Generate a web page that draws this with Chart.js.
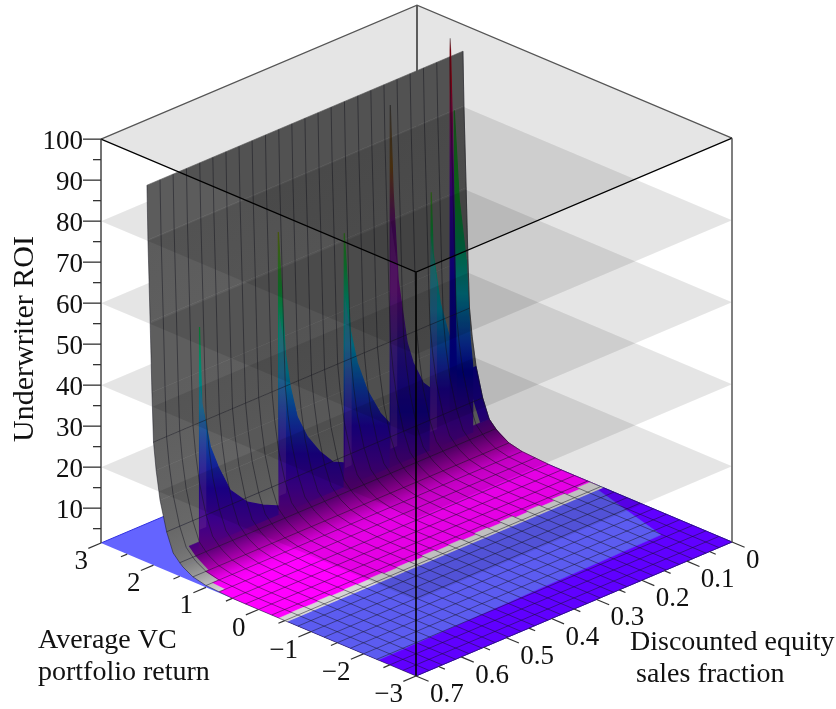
<!DOCTYPE html>
<html>
<head>
<meta charset="utf-8">
<style>body{margin:0;background:#fff}canvas{display:block}</style>
<script src="https://cdn.jsdelivr.net/npm/chart.js@4/dist/chart.umd.min.js"></script>
</head>
<body>
<canvas id="surface" width="836" height="709"></canvas>
<script>
// surface profile, ROI only depends on the return
const returnGrid = [-3,-2.75,-2.5,-2.25,-2,-1.75,-1.5,-1.25,-1,-0.75,-0.5,-0.25,0,0.25,0.5,0.75,1,1.25,1.44,1.5,1.626,1.75,1.875,1.95,2,2.03,2.064,2.106,2.125];
const roiProfile = [1.5,1.5,1.5,1.5,1.5,1.5,1.5,1.5,1.5,1.5,1.5,1.5,1.5,1.5,1.55,1.75,1.95,2.7,4.1,4.8,6.5,11,18,24.9,31.5,43.5,60.5,80.3,93.5];
const fractionGrid = [0,0.029,0.058,0.0875,0.117,0.146,0.175,0.204,0.233,0.2625,0.292,0.321,0.35,0.379,0.408,0.4375,0.467,0.496,0.525,0.554,0.583,0.6125,0.642,0.671,0.7];
const meshReturns = [-3,-2.75,-2.5,-2.25,-2,-1.75,-1.5,-1.25,-1,-0.75,-0.5,-0.25,0,0.25,0.5,0.75,1,1.25,1.5,1.75,2];

// rows from r=0.5 upward: wall grey, tint of the coloured part and where the tint starts
const wallReturns = [0.5,0.75,1,1.25,1.44,1.5,1.626,1.75,1.875,1.95,2,2.03,2.064,2.106,2.125];
const wallGrey = ['#c0c0c0','#d4d4d4','#bcbcbc','#9a9a9a','#808080','#787878','#707070','#686868','#646464','#626262','#606060','#5e5e5e','#5e5e5e','#5c5c5c','#5c5c5c'];
const tintReturns = [0.5,0.75,1,1.25,1.5,1.626];
const tintColors = ['#ff00ff','#ff00ff','#f000f0','#b000b0','#60007a','#48007e'];
const tintStartF = [0.7,0.686,0.672,0.665,0.665];
const capReturns = [1.626,1.75,1.875];
const capColors = ['#30008a','#1c0090','#0a0090'];

// floor zones, the grey strip has a stepped upper edge
const magentaEdge = -0.42;
const stripEdge = -0.55;
const stripSteps = [-0.3,-0.36,-0.32,-0.38,-0.34,-0.38,-0.33,-0.37,-0.35,-0.39,-0.36,-0.38,-0.35,-0.39,-0.37,-0.39,-0.36,-0.38,-0.37,-0.39,-0.37,-0.39,-0.38,-0.39];
const lightZoneR = [-0.55,-0.55,-2.16,-2.28];
const lightZoneF = [0.7,0.012,0.06,0.7];

// spikes, read in the plane r = 1.94
const spikeR = 1.94;
const spikeF = [
  [0.605,0.605,0.6,0.581,0.5635,0.537,0.499,0.464,0.428,0.428],
  [0.4285,0.4305,0.415,0.404,0.3885,0.366,0.3376,0.309,0.282,0.282],
  [0.283,0.2844,0.271,0.2556,0.2335,0.2047,0.18,0.18],
  [0.182,0.1825,0.176,0.165,0.145,0.1316,0.1094,0.094,0.094],
  [0.094,0.0917,0.0875,0.0717,0.0497,0.0497],
  [0.0364,0.0407,0.0297,0.0142,0.0053,0,0],
  [0.0497,0.0497,0.0452,0.0407,0.0364,0.0364]
];
const spikeRoi = [
  [1.5,55.5,36.7,25.1,19.4,12.5,7.8,5.45,3.55,1.5],
  [1.5,70.5,40.3,31.5,23.4,17.5,12.5,8.7,7.2,1.5],
  [1.5,63.4,39.1,30.4,22.7,15.8,11.7,1.5],
  [1.5,89.9,68.1,46.4,30.1,24.6,18.7,16.7,1.5],
  [1.5,64.4,49.3,36.4,26.4,1.5],
  [1.5,82,59.6,44.2,24.3,17.9,1.5],
  [1.5,100,79.8,55.2,18.4,1.5]
];
const commonStops = [[1.5,'#5a0078'],[8,'#3c0088'],[16,'#1c0090'],[26,'#0c3a9a'],[36,'#007f99'],[46,'#008a70'],[56,'#0f8030'],[70,'#506010']];
const spikeStops = [
  commonStops, commonStops, commonStops,
  [[1.5,'#50007a'],[15,'#10008a'],[30,'#25107e'],[45,'#5a0a70'],[60,'#4a0a60'],[75,'#5a3a10'],[90,'#333333']],
  commonStops,
  [[1.5,'#4a0080'],[18,'#00008c'],[25,'#0a2f9a'],[37,'#007f90'],[48,'#007a50'],[60,'#0f7a20'],[82,'#1a6020']],
  [[1.5,'#4a0080'],[20,'#00008c'],[40,'#0a008a'],[60,'#30008a'],[75,'#60005f'],[90,'#8a0010'],[97,'#800010'],[100,'#999999']]
];
// muted band on the left side of the spikes
const bandSpikes = [0,1,2,3,4];
const bandWidthF = 0.015;
const bandRoi = [30,39,36,50,42];
const bandFloor = 6;

// level planes and where each one goes through the wall
const planeLevels = [20,40,60,80];
const planeCutR = [1.9,2.02,2.07,2.105];

// axes
const roiTicks = [10,20,30,40,50,60,70,80,90,100];
const roiMinor = [5,15,25,35,45,55,65,75,85,95];
const returnTicks = [3,2,1,0,-1,-2,-3];
const returnMinor = [2.5,1.5,0.5,-0.5,-1.5,-2.5];
const fractionTicks = [0,0.1,0.2,0.3,0.4,0.5,0.6,0.7];
const fractionMinor = [0.05,0.15,0.25,0.35,0.45,0.55,0.65];

const rMin = -3, rMax = 3, fMax = 0.7, zMin = 1.5, zMax = 100;

function project(r, f, z) {
  const u = (r - rMin) / (rMax - rMin), v = (fMax - f) / fMax;
  return { x: 416 - 315 * u + 316 * v, y: 676 - 133 * u - 134 * v - 4.1 * (z - zMin) };
}
function roiAt(r) {
  return roiProfile[returnGrid.indexOf(r)];
}

const canvas = document.getElementById('surface');
const ctx = canvas.getContext('2d');
const sets = [];

function shape(points, color, border, bw) {
  sets.push({ data: points, showLine: true, fill: 'shape', backgroundColor: color,
    borderColor: border || color, borderWidth: bw === undefined ? 0.6 : bw, pointRadius: 0, tension: 0 });
}
function line(points, color, width) {
  sets.push({ data: points, showLine: true, fill: false, borderColor: color, borderWidth: width, pointRadius: 0, tension: 0 });
}
function rowPoly(ra, rb, f0, f1) {
  return [project(ra, f0, roiAt(ra)), project(ra, f1, roiAt(ra)), project(rb, f1, roiAt(rb)), project(rb, f0, roiAt(rb))];
}
// gradient across a strip, from its edge a to its edge b
function stripFill(poly, ca, cb) {
  const a = poly[0], d = { x: poly[1].x - a.x, y: poly[1].y - a.y }, b = poly[3];
  const t = ((b.x - a.x) * d.x + (b.y - a.y) * d.y) / (d.x * d.x + d.y * d.y);
  const g = ctx.createLinearGradient(a.x, a.y, b.x - t * d.x, b.y - t * d.y);
  g.addColorStop(0, ca);
  g.addColorStop(1, cb);
  return g;
}
function planePoly(z, r0, r1) {
  return [project(r0, fMax, z), project(r0, 0, z), project(r1, 0, z), project(r1, fMax, z)];
}

// floor plate
shape(planePoly(zMin, rMin, rMax), '#6464ff', '#3030e0', 1);

// part of the planes behind the wall
planeLevels.forEach((z, i) => shape(planePoly(z, planeCutR[i], rMax), 'rgba(0,0,0,0.1)', 'rgba(0,0,0,0)', 0));

// back axis edge
line([project(rMax, 0, zMin), project(rMax, 0, zMax)], '#000', 1.2);

// wall, back rows first
for (let i = wallReturns.length - 2; i >= 0; i--) {
  const poly = rowPoly(wallReturns[i + 1], wallReturns[i], fMax, 0);
  shape(poly, stripFill(poly, wallGrey[i + 1], wallGrey[i]));
}
// tinted rows
for (let i = tintReturns.length - 2; i >= 0; i--) {
  const poly = rowPoly(tintReturns[i + 1], tintReturns[i], tintStartF[i], 0);
  shape(poly, stripFill(poly, tintColors[i + 1], tintColors[i]));
}
// right end of the wall keeps its colour further up
for (let i = capReturns.length - 2; i >= 0; i--) {
  const poly = rowPoly(capReturns[i + 1], capReturns[i], 0.02, 0);
  shape(poly, stripFill(poly, capColors[i + 1], capColors[i]));
}

// spikes
spikeF.forEach((fs, i) => {
  const pts = fs.map((f, k) => project(spikeR, f, spikeRoi[i][k]));
  const stops = spikeStops[i];
  const yAt = z => project(spikeR, fs[0], z).y;
  const top = stops[stops.length - 1][0];
  const g = ctx.createLinearGradient(0, yAt(zMin), 0, yAt(top));
  stops.forEach(s => g.addColorStop((s[0] - zMin) / (top - zMin), s[1]));
  shape(pts, g, g, 1.2);
});
bandSpikes.forEach((s, i) => {
  const f0 = spikeF[s][0];
  const band = [project(spikeR, f0, bandFloor), project(spikeR, f0, bandRoi[i] + 12),
    project(spikeR, f0 - bandWidthF, bandRoi[i]), project(spikeR, f0 - bandWidthF, bandFloor)];
  shape(band, 'rgba(130,70,150,0.26)', 'rgba(0,0,0,0)', 0);
});

// floor zones in front of the wall
shape(planePoly(zMin, magentaEdge, 0.5), '#ff00ff');
shape(planePoly(zMin, rMin, stripEdge), '#6000ff');
shape(lightZoneR.map((r, i) => project(r, lightZoneF[i], zMin)), '#5c5cf0');
const stripEdgePts = [];
stripSteps.forEach((r, i) => {
  stripEdgePts.push(project(r, fractionGrid[i], zMin), project(r, fractionGrid[i + 1], zMin));
});
shape([project(stripEdge, 0, zMin), ...stripEdgePts, project(stripEdge, fMax, zMin)], '#d6d6d6');

// mesh
const meshColor = 'rgba(20,20,30,0.55)';
fractionGrid.forEach(f => line(returnGrid.map((r, k) => project(r, f, roiProfile[k])), meshColor, 0.9));
meshReturns.forEach(r => line([project(r, fMax, roiAt(r)), project(r, 0, roiAt(r))], meshColor, 0.9));

// planes over the wall and top face
planeLevels.forEach((z, i) => shape(planePoly(z, rMin, planeCutR[i]), 'rgba(0,0,0,0.1)', 'rgba(0,0,0,0)', 0));
shape(planePoly(zMax, rMin, rMax), 'rgba(0,0,0,0.1)', 'rgba(0,0,0,0)', 0);

// box
line([project(rMax, fMax, zMax), project(rMax, 0, zMax), project(rMin, 0, zMax)], '#555', 1.3);
line([project(rMax, fMax, zMax), project(rMin, fMax, zMax), project(rMin, 0, zMax)], '#000', 1.2);
line([project(rMin, fMax, zMin), project(rMin, fMax, zMax)], '#000', 1.6);
line([project(rMax, fMax, zMin), project(rMax, fMax, zMax)], '#444', 1.5);
line([project(rMin, 0, zMin), project(rMin, 0, zMax)], '#555', 1.5);

// ticks
const zTick = (z, len) => line([project(rMax, fMax, z), { x: project(rMax, fMax, z).x - len, y: project(rMax, fMax, z).y }], '#333', 1.3);
roiTicks.forEach(z => zTick(z, 18));
roiMinor.forEach(z => zTick(z, 8));
const rTick = (r, dv) => line([project(r, fMax, zMin), project(r, fMax + dv, zMin)], '#333', 1.2);
returnTicks.forEach(r => rTick(r, 0.028));
returnMinor.forEach(r => rTick(r, 0.014));
const fTick = (f, dr) => line([project(rMin, f, zMin), project(rMin - dr, f, zMin)], '#333', 1.2);
fractionTicks.forEach(f => fTick(f, 0.24));
fractionMinor.forEach(f => fTick(f, 0.12));

sets.forEach((s, i) => { s.order = sets.length - i; });

const textPlugin = {
  id: 'axisText',
  afterDatasetsDraw(chart) {
    const c = chart.ctx, sx = chart.scales.x, sy = chart.scales.y;
    const put = (p, dx, dy, txt, align) => {
      c.textAlign = align;
      c.fillText(txt, sx.getPixelForValue(p.x) + dx, sy.getPixelForValue(p.y) + dy);
    };
    c.save();
    c.fillStyle = '#111';
    c.textBaseline = 'alphabetic';
    c.font = '27px "Liberation Serif"';
    roiTicks.forEach(z => put(project(rMax, fMax, z), -18, 10, String(z), 'right'));
    returnTicks.forEach(r => put(project(r, fMax, zMin), -13, 26, String(r).replace('-', '\u2212'), 'right'));
    fractionTicks.forEach(f => put(project(rMin, f, zMin), 14, 26, String(f), 'left'));
    c.font = '28px "Liberation Serif"';
    c.textAlign = 'left';
    c.fillText('Average VC', 38, 648);
    c.fillText('portfolio return', 38, 680);
    c.fillText('Discounted equity', 630, 650);
    c.fillText('sales fraction', 636, 682);
    c.translate(33, 339);
    c.rotate(-Math.PI / 2);
    c.textAlign = 'center';
    c.font = '30px "Liberation Serif"';
    c.fillText('Underwriter ROI', 0, 0);
    c.restore();
  }
};

new Chart(canvas, {
  type: 'scatter',
  data: { datasets: sets },
  options: {
    responsive: false,
    animation: false,
    layout: { padding: 0 },
    events: [],
    plugins: { legend: { display: false }, tooltip: { enabled: false } },
    scales: {
      x: { type: 'linear', min: 0, max: 836, display: false },
      y: { type: 'linear', min: 0, max: 709, reverse: true, display: false }
    }
  },
  plugins: [textPlugin]
});
</script>
</body>
</html>
